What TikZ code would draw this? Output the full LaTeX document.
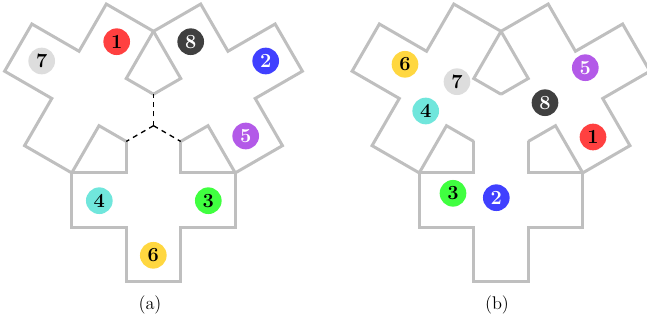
\documentclass[tikz,border=0pt]{standalone}
\definecolor{linegray}{HTML}{BFBFBF}
\definecolor{tokred}{HTML}{FF4040}
\definecolor{tokdark}{HTML}{404040}
\definecolor{tokblue}{HTML}{4040FF}
\definecolor{tokpurple}{HTML}{B35AE8}
\definecolor{tokcyan}{HTML}{70E6DC}
\definecolor{tokgreen}{HTML}{40FF40}
\definecolor{tokyellow}{HTML}{FFD740}
\definecolor{toklight}{HTML}{DDDDDD}
\tikzset{
  armline/.style={draw=linegray, line width=1.8pt, line join=miter},
  splitline/.style={draw=black, line width=0.8pt, dash pattern=on 3pt off 2.6pt},
  token/.style={circle, minimum size=16pt, inner sep=0pt, font=\large\bfseries},
  tokdarktext/.style={token, text=black},
  toklighttext/.style={token, text=white},
  caption/.style={font=\fontsize{11}{13}\selectfont, inner sep=0pt}
}
\newcommand{\threearms}{%
  \foreach \r in {0,120,240}{
    \draw[armline, rotate=\r] (-0.5,-0.2887) -- (-0.5,-0.8660) -- (-1.5,-0.8660) -- (-1.5,-1.8660)
      -- (-0.5,-1.8660) -- (-0.5,-2.8660) -- (0.5,-2.8660) -- (0.5,-1.8660)
      -- (1.5,-1.8660) -- (1.5,-0.8660) -- (0.5,-0.8660) -- (0.5,-0.2887);
  }%
}
\begin{document}
\begin{tikzpicture}[x=0.6pt, y=-0.6pt]
  \useasboundingbox (0,0) rectangle (647,321);
  % ---------- (a) ----------
  \begin{scope}[shift={(153.5,125.7)}, x=32.7pt, y=32.7pt]
    \threearms
    \coordinate (Ca) at (0,0);
    \coordinate (va1) at (0,0.5774);
    \coordinate (va2) at (-0.5,-0.2887);
    \coordinate (va3) at (0.5,-0.2887);
    \draw[splitline] (Ca) -- (va1);
    \draw[splitline] (Ca) -- (va2);
    \draw[splitline] (Ca) -- (va3);
  \end{scope}
  \node[tokdarktext, fill=tokred]    (a1) at (116.7,41.7) {1};
  \node[toklighttext, fill=tokblue]  (a2) at (265.7,61) {2};
  \node[tokdarktext, fill=tokgreen]  (a3) at (208.3,200.7) {3};
  \node[tokdarktext, fill=tokcyan]   (a4) at (99.3,200.7) {4};
  \node[toklighttext, fill=tokpurple](a5) at (245.7,136) {5};
  \node[tokdarktext, fill=tokyellow] (a6) at (153.3,255.3) {6};
  \node[tokdarktext, fill=toklight]  (a7) at (41.7,61) {7};
  \node[toklighttext, fill=tokdark]  (a8) at (190.7,41.7) {8};
  \node[caption] (la) at (150,305) {(a)};
  % ---------- (b) ----------
  \begin{scope}[shift={(501,125.7)}, x=32.7pt, y=32.7pt]
    \threearms
  \end{scope}
  \node[tokdarktext, fill=tokred]    (b1) at (593,137) {1};
  \node[toklighttext, fill=tokblue]  (b2) at (496.3,197.7) {2};
  \node[tokdarktext, fill=tokgreen]  (b3) at (453,193.3) {3};
  \node[tokdarktext, fill=tokcyan]   (b4) at (425.7,111) {4};
  \node[toklighttext, fill=tokpurple](b5) at (585.3,67.7) {5};
  \node[tokdarktext, fill=tokyellow] (b6) at (405,64.3) {6};
  \node[tokdarktext, fill=toklight]  (b7) at (457,81.7) {7};
  \node[toklighttext, fill=tokdark]  (b8) at (545,102.7) {8};
  \node[caption] (lb) at (497,305) {(b)};
\end{tikzpicture}
\end{document}
